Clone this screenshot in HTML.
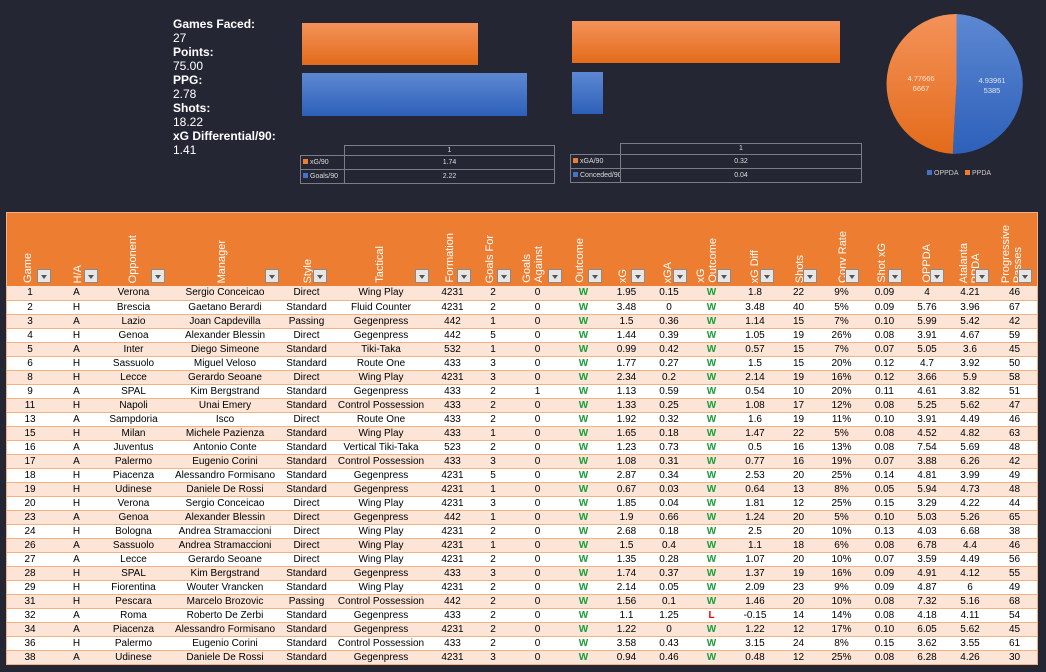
<!DOCTYPE html>
<html><head><meta charset="utf-8"><style>
*{margin:0;padding:0;box-sizing:border-box}
body{width:1046px;height:672px;background:#242733;position:relative;overflow:hidden;font-family:"Liberation Sans",sans-serif}
.a{position:absolute}
.kpi{left:173px;top:17px;color:#fff;font-size:12px;line-height:14px}
.kpi b{display:block}
.or{background:linear-gradient(#f4925a,#e36b1a)}
.bl{background:linear-gradient(#5d88d2,#2d60ba)}
.mt{border-collapse:collapse;font-size:7px;color:#ddd;table-layout:fixed}
.mt td{border:1px solid #7a7d86;padding:0 2px;height:14px;line-height:12px;white-space:nowrap;overflow:hidden}
.mt .v{text-align:center}
.sw{display:inline-block;width:5px;height:5px;margin-right:2px;vertical-align:middle}
.hd{left:7px;top:213px;width:1030px;height:73px;background:#ed7d31;overflow:hidden}
.lab{position:absolute;bottom:3px;writing-mode:vertical-rl;transform:rotate(180deg);color:#fff;font-size:11px;line-height:12px;white-space:nowrap}
.btn{position:absolute;bottom:3px;width:14px;height:14px;background:#e6e6e6;border:1px solid #8a8a8a}
.btn:after{content:"";position:absolute;left:3px;top:5px;border-left:3.5px solid transparent;border-right:3.5px solid transparent;border-top:4px solid #555}
table.d{position:absolute;left:7px;top:286px;width:1030px;border-collapse:collapse;table-layout:fixed;font-size:10px;color:#000}
table.d td{height:14px;line-height:13px;text-align:center;white-space:nowrap;overflow:hidden;border-bottom:1px solid #f4b183;padding:0}
table.d tr:nth-child(odd) td{background:#fce4d6}
table.d tr:nth-child(even) td{background:#fff}
.w{color:#1a9e3a;font-weight:bold}
.l{color:#e00;font-weight:bold}
.frame{left:6px;top:212px;width:1032px;height:453px;border:1px solid #f4b183}
</style></head><body>
<div class="a kpi"><b>Games Faced:</b>27<b>Points:</b>75.00<b>PPG:</b>2.78<b>Shots:</b>18.22<b>xG Differential/90:</b>1.41</div>

<div class="a or" style="left:302px;top:23px;width:176px;height:42px"></div>
<div class="a bl" style="left:302px;top:73px;width:225px;height:43px"></div>
<div class="a or" style="left:572px;top:21px;width:268px;height:42px"></div>
<div class="a bl" style="left:572px;top:72px;width:31px;height:42px"></div>

<table class="a mt" style="left:300px;top:145px;width:254px">
<colgroup><col style="width:44px"><col style="width:210px"></colgroup>
<tr><td style="border:none;border-bottom:1px solid #7a7d86;height:10px"></td><td class="v" style="height:10px;line-height:9px">1</td></tr>
<tr><td><span class="sw" style="background:#ed7d31"></span>xG/90</td><td class="v">1.74</td></tr>
<tr><td><span class="sw" style="background:#4472c4"></span>Goals/90</td><td class="v">2.22</td></tr>
</table>
<table class="a mt" style="left:570px;top:143px;width:291px">
<colgroup><col style="width:50px"><col style="width:241px"></colgroup>
<tr><td style="border:none;border-bottom:1px solid #7a7d86;height:11px"></td><td class="v" style="height:11px;line-height:10px">1</td></tr>
<tr><td><span class="sw" style="background:#ed7d31"></span>xGA/90</td><td class="v">0.32</td></tr>
<tr><td><span class="sw" style="background:#4472c4"></span>Conceded/90</td><td class="v">0.04</td></tr>
</table>

<svg class="a" style="left:870px;top:0" width="176" height="190">
<defs>
<linearGradient id="gb" x1="0" y1="0" x2="0" y2="1"><stop offset="0" stop-color="#5d88d2"/><stop offset="1" stop-color="#2d60ba"/></linearGradient>
<linearGradient id="go" x1="0" y1="0" x2="0" y2="1"><stop offset="0" stop-color="#f4925a"/><stop offset="1" stop-color="#e36b1a"/></linearGradient>
</defs>
<path d="M86.5 84 L86.5 14 A70 70 0 0 1 82.8 153.9 Z" fill="url(#gb)"/>
<path d="M86.5 84 L82.8 153.9 A70 70 0 0 1 86.5 14 Z" fill="url(#go)"/>
<text x="122" y="83" fill="#dfe4ee" font-size="7.5" text-anchor="middle" font-family="Liberation Sans">4.93961</text>
<text x="122" y="93" fill="#dfe4ee" font-size="7.5" text-anchor="middle" font-family="Liberation Sans">5385</text>
<text x="51" y="81" fill="#fbe3d2" font-size="7.5" text-anchor="middle" font-family="Liberation Sans">4.77666</text>
<text x="51" y="91" fill="#fbe3d2" font-size="7.5" text-anchor="middle" font-family="Liberation Sans">6667</text>
<rect x="57" y="170" width="5" height="5" fill="#4472c4"/><text x="64" y="175" fill="#ccc" font-size="7" font-family="Liberation Sans">OPPDA</text>
<rect x="95" y="170" width="5" height="5" fill="#ed7d31"/><text x="102" y="175" fill="#ccc" font-size="7" font-family="Liberation Sans">PPDA</text>
</svg>

<div class="a hd">
<div class="lab" style="left:15px">Game</div><div class="btn" style="left:30px"></div>
<div class="lab" style="left:65px">H/A</div><div class="btn" style="left:77px"></div>
<div class="lab" style="left:120px">Opponent</div><div class="btn" style="left:144px"></div>
<div class="lab" style="left:209px">Manager</div><div class="btn" style="left:258px"></div>
<div class="lab" style="left:295px">Style</div><div class="btn" style="left:306px"></div>
<div class="lab" style="left:367px">Tactical</div><div class="btn" style="left:408px"></div>
<div class="lab" style="left:437px">Formation</div><div class="btn" style="left:450px"></div>
<div class="lab" style="left:477px">Goals For</div><div class="btn" style="left:490px"></div>
<div class="lab" style="left:514px">Goals<br>Against</div><div class="btn" style="left:541px"></div>
<div class="lab" style="left:567px">Outcome</div><div class="btn" style="left:581px"></div>
<div class="lab" style="left:610px">xG</div><div class="btn" style="left:624px"></div>
<div class="lab" style="left:655px">xGA</div><div class="btn" style="left:666px"></div>
<div class="lab" style="left:688px">xG<br>Outcome</div><div class="btn" style="left:710px"></div>
<div class="lab" style="left:742px">xG Diff</div><div class="btn" style="left:753px"></div>
<div class="lab" style="left:787px">Shots</div><div class="btn" style="left:796px"></div>
<div class="lab" style="left:830px">Conv Rate</div><div class="btn" style="left:838px"></div>
<div class="lab" style="left:869px">Shot xG</div><div class="btn" style="left:881px"></div>
<div class="lab" style="left:914px">OPPDA</div><div class="btn" style="left:923px"></div>
<div class="lab" style="left:951px">Atalanta<br>PPDA</div><div class="btn" style="left:968px"></div>
<div class="lab" style="left:993px">Progressive<br>Passes</div><div class="btn" style="left:1011px"></div>
</div>

<table class="d">
<colgroup><col style="width:46px"><col style="width:47px"><col style="width:67px"><col style="width:116px"><col style="width:47px"><col style="width:102px"><col style="width:41px"><col style="width:40px"><col style="width:49px"><col style="width:43px"><col style="width:43px"><col style="width:42px"><col style="width:43px"><col style="width:44px"><col style="width:43px"><col style="width:43px"><col style="width:43px"><col style="width:42px"><col style="width:44px"><col style="width:45px"></colgroup>
<tr><td>1</td><td>A</td><td>Verona</td><td>Sergio Conceicao</td><td>Direct</td><td>Wing Play</td><td>4231</td><td>2</td><td>0</td><td class="w">W</td><td>1.95</td><td>0.15</td><td class="w">W</td><td>1.8</td><td>22</td><td>9%</td><td>0.09</td><td>4</td><td>4.21</td><td>46</td></tr>
<tr><td>2</td><td>H</td><td>Brescia</td><td>Gaetano Berardi</td><td>Standard</td><td>Fluid Counter</td><td>4231</td><td>2</td><td>0</td><td class="w">W</td><td>3.48</td><td>0</td><td class="w">W</td><td>3.48</td><td>40</td><td>5%</td><td>0.09</td><td>5.76</td><td>3.96</td><td>67</td></tr>
<tr><td>3</td><td>A</td><td>Lazio</td><td>Joan Capdevilla</td><td>Passing</td><td>Gegenpress</td><td>442</td><td>1</td><td>0</td><td class="w">W</td><td>1.5</td><td>0.36</td><td class="w">W</td><td>1.14</td><td>15</td><td>7%</td><td>0.10</td><td>5.99</td><td>5.42</td><td>42</td></tr>
<tr><td>4</td><td>H</td><td>Genoa</td><td>Alexander Blessin</td><td>Direct</td><td>Gegenpress</td><td>442</td><td>5</td><td>0</td><td class="w">W</td><td>1.44</td><td>0.39</td><td class="w">W</td><td>1.05</td><td>19</td><td>26%</td><td>0.08</td><td>3.91</td><td>4.67</td><td>59</td></tr>
<tr><td>5</td><td>A</td><td>Inter</td><td>Diego Simeone</td><td>Standard</td><td>Tiki-Taka</td><td>532</td><td>1</td><td>0</td><td class="w">W</td><td>0.99</td><td>0.42</td><td class="w">W</td><td>0.57</td><td>15</td><td>7%</td><td>0.07</td><td>5.05</td><td>3.6</td><td>45</td></tr>
<tr><td>6</td><td>H</td><td>Sassuolo</td><td>Miguel Veloso</td><td>Standard</td><td>Route One</td><td>433</td><td>3</td><td>0</td><td class="w">W</td><td>1.77</td><td>0.27</td><td class="w">W</td><td>1.5</td><td>15</td><td>20%</td><td>0.12</td><td>4.7</td><td>3.92</td><td>50</td></tr>
<tr><td>8</td><td>H</td><td>Lecce</td><td>Gerardo Seoane</td><td>Direct</td><td>Wing Play</td><td>4231</td><td>3</td><td>0</td><td class="w">W</td><td>2.34</td><td>0.2</td><td class="w">W</td><td>2.14</td><td>19</td><td>16%</td><td>0.12</td><td>3.66</td><td>5.9</td><td>58</td></tr>
<tr><td>9</td><td>A</td><td>SPAL</td><td>Kim Bergstrand</td><td>Standard</td><td>Gegenpress</td><td>433</td><td>2</td><td>1</td><td class="w">W</td><td>1.13</td><td>0.59</td><td class="w">W</td><td>0.54</td><td>10</td><td>20%</td><td>0.11</td><td>4.61</td><td>3.82</td><td>51</td></tr>
<tr><td>11</td><td>H</td><td>Napoli</td><td>Unai Emery</td><td>Standard</td><td>Control Possession</td><td>433</td><td>2</td><td>0</td><td class="w">W</td><td>1.33</td><td>0.25</td><td class="w">W</td><td>1.08</td><td>17</td><td>12%</td><td>0.08</td><td>5.25</td><td>5.62</td><td>47</td></tr>
<tr><td>13</td><td>A</td><td>Sampdoria</td><td>Isco</td><td>Direct</td><td>Route One</td><td>433</td><td>2</td><td>0</td><td class="w">W</td><td>1.92</td><td>0.32</td><td class="w">W</td><td>1.6</td><td>19</td><td>11%</td><td>0.10</td><td>3.91</td><td>4.49</td><td>46</td></tr>
<tr><td>15</td><td>H</td><td>Milan</td><td>Michele Pazienza</td><td>Standard</td><td>Wing Play</td><td>433</td><td>1</td><td>0</td><td class="w">W</td><td>1.65</td><td>0.18</td><td class="w">W</td><td>1.47</td><td>22</td><td>5%</td><td>0.08</td><td>4.52</td><td>4.82</td><td>63</td></tr>
<tr><td>16</td><td>A</td><td>Juventus</td><td>Antonio Conte</td><td>Standard</td><td>Vertical Tiki-Taka</td><td>523</td><td>2</td><td>0</td><td class="w">W</td><td>1.23</td><td>0.73</td><td class="w">W</td><td>0.5</td><td>16</td><td>13%</td><td>0.08</td><td>7.54</td><td>5.69</td><td>48</td></tr>
<tr><td>17</td><td>A</td><td>Palermo</td><td>Eugenio Corini</td><td>Standard</td><td>Control Possession</td><td>433</td><td>3</td><td>0</td><td class="w">W</td><td>1.08</td><td>0.31</td><td class="w">W</td><td>0.77</td><td>16</td><td>19%</td><td>0.07</td><td>3.88</td><td>6.26</td><td>42</td></tr>
<tr><td>18</td><td>H</td><td>Piacenza</td><td>Alessandro Formisano</td><td>Standard</td><td>Gegenpress</td><td>4231</td><td>5</td><td>0</td><td class="w">W</td><td>2.87</td><td>0.34</td><td class="w">W</td><td>2.53</td><td>20</td><td>25%</td><td>0.14</td><td>4.81</td><td>3.99</td><td>49</td></tr>
<tr><td>19</td><td>H</td><td>Udinese</td><td>Daniele De Rossi</td><td>Standard</td><td>Gegenpress</td><td>4231</td><td>1</td><td>0</td><td class="w">W</td><td>0.67</td><td>0.03</td><td class="w">W</td><td>0.64</td><td>13</td><td>8%</td><td>0.05</td><td>5.94</td><td>4.73</td><td>48</td></tr>
<tr><td>20</td><td>H</td><td>Verona</td><td>Sergio Conceicao</td><td>Direct</td><td>Wing Play</td><td>4231</td><td>3</td><td>0</td><td class="w">W</td><td>1.85</td><td>0.04</td><td class="w">W</td><td>1.81</td><td>12</td><td>25%</td><td>0.15</td><td>3.29</td><td>4.22</td><td>44</td></tr>
<tr><td>23</td><td>A</td><td>Genoa</td><td>Alexander Blessin</td><td>Direct</td><td>Gegenpress</td><td>442</td><td>1</td><td>0</td><td class="w">W</td><td>1.9</td><td>0.66</td><td class="w">W</td><td>1.24</td><td>20</td><td>5%</td><td>0.10</td><td>5.03</td><td>5.26</td><td>65</td></tr>
<tr><td>24</td><td>H</td><td>Bologna</td><td>Andrea Stramaccioni</td><td>Direct</td><td>Wing Play</td><td>4231</td><td>2</td><td>0</td><td class="w">W</td><td>2.68</td><td>0.18</td><td class="w">W</td><td>2.5</td><td>20</td><td>10%</td><td>0.13</td><td>4.03</td><td>6.68</td><td>38</td></tr>
<tr><td>26</td><td>A</td><td>Sassuolo</td><td>Andrea Stramaccioni</td><td>Direct</td><td>Wing Play</td><td>4231</td><td>1</td><td>0</td><td class="w">W</td><td>1.5</td><td>0.4</td><td class="w">W</td><td>1.1</td><td>18</td><td>6%</td><td>0.08</td><td>6.78</td><td>4.4</td><td>46</td></tr>
<tr><td>27</td><td>A</td><td>Lecce</td><td>Gerardo Seoane</td><td>Direct</td><td>Wing Play</td><td>4231</td><td>2</td><td>0</td><td class="w">W</td><td>1.35</td><td>0.28</td><td class="w">W</td><td>1.07</td><td>20</td><td>10%</td><td>0.07</td><td>3.59</td><td>4.49</td><td>56</td></tr>
<tr><td>28</td><td>H</td><td>SPAL</td><td>Kim Bergstrand</td><td>Standard</td><td>Gegenpress</td><td>433</td><td>3</td><td>0</td><td class="w">W</td><td>1.74</td><td>0.37</td><td class="w">W</td><td>1.37</td><td>19</td><td>16%</td><td>0.09</td><td>4.91</td><td>4.12</td><td>55</td></tr>
<tr><td>29</td><td>H</td><td>Fiorentina</td><td>Wouter Vrancken</td><td>Standard</td><td>Wing Play</td><td>4231</td><td>2</td><td>0</td><td class="w">W</td><td>2.14</td><td>0.05</td><td class="w">W</td><td>2.09</td><td>23</td><td>9%</td><td>0.09</td><td>4.87</td><td>6</td><td>49</td></tr>
<tr><td>31</td><td>H</td><td>Pescara</td><td>Marcelo Brozovic</td><td>Passing</td><td>Control Possession</td><td>442</td><td>2</td><td>0</td><td class="w">W</td><td>1.56</td><td>0.1</td><td class="w">W</td><td>1.46</td><td>20</td><td>10%</td><td>0.08</td><td>7.32</td><td>5.16</td><td>68</td></tr>
<tr><td>32</td><td>A</td><td>Roma</td><td>Roberto De Zerbi</td><td>Standard</td><td>Gegenpress</td><td>433</td><td>2</td><td>0</td><td class="w">W</td><td>1.1</td><td>1.25</td><td class="l">L</td><td>-0.15</td><td>14</td><td>14%</td><td>0.08</td><td>4.18</td><td>4.11</td><td>54</td></tr>
<tr><td>34</td><td>A</td><td>Piacenza</td><td>Alessandro Formisano</td><td>Standard</td><td>Gegenpress</td><td>4231</td><td>2</td><td>0</td><td class="w">W</td><td>1.22</td><td>0</td><td class="w">W</td><td>1.22</td><td>12</td><td>17%</td><td>0.10</td><td>6.05</td><td>5.62</td><td>45</td></tr>
<tr><td>36</td><td>H</td><td>Palermo</td><td>Eugenio Corini</td><td>Standard</td><td>Control Possession</td><td>433</td><td>2</td><td>0</td><td class="w">W</td><td>3.58</td><td>0.43</td><td class="w">W</td><td>3.15</td><td>24</td><td>8%</td><td>0.15</td><td>3.62</td><td>3.55</td><td>61</td></tr>
<tr><td>38</td><td>A</td><td>Udinese</td><td>Daniele De Rossi</td><td>Standard</td><td>Gegenpress</td><td>4231</td><td>3</td><td>0</td><td class="w">W</td><td>0.94</td><td>0.46</td><td class="w">W</td><td>0.48</td><td>12</td><td>25%</td><td>0.08</td><td>6.28</td><td>4.26</td><td>30</td></tr>
</table>
<div class="a frame"></div>
</body></html>
